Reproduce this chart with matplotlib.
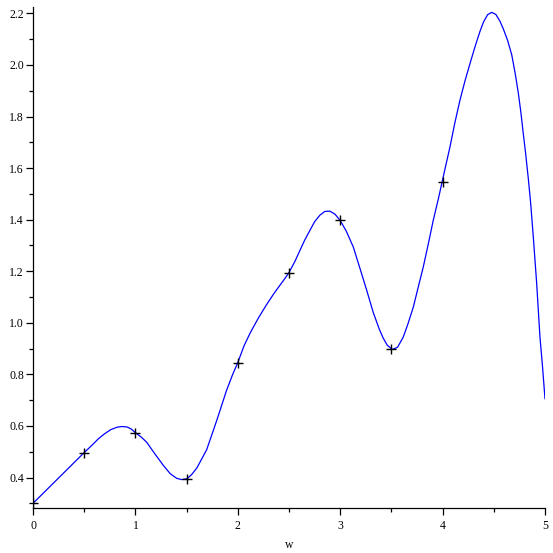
import matplotlib
matplotlib.use("Agg")
from matplotlib import pyplot as plt
from matplotlib.ticker import MultipleLocator

# sample points (w, value) marked with crosses
mark_w = [0.0, 0.5, 1.0, 1.5, 2.0, 2.5, 3.0, 3.5, 4.0]
mark_y = [0.30, 0.497, 0.574, 0.396, 0.846, 1.195, 1.397, 0.897, 1.548]

# smooth curve
curve_w = [0.0, 0.5, 0.58, 0.64, 0.70, 0.76, 0.82, 0.866, 0.92, 0.96, 1.0,
           1.06, 1.11, 1.19, 1.273, 1.34, 1.403, 1.452, 1.507, 1.55, 1.6,
           1.696, 1.794, 1.89, 1.95, 2.0, 2.06, 2.12, 2.2, 2.28, 2.35, 2.41,
           2.46, 2.5, 2.56, 2.607, 2.655, 2.705, 2.75, 2.803, 2.85, 2.90,
           2.95, 3.0, 3.06, 3.128, 3.19, 3.259, 3.323, 3.382, 3.421, 3.46,
           3.509, 3.56, 3.616, 3.66, 3.714, 3.76, 3.811, 3.86, 3.909, 3.96,
           4.0, 4.072, 4.12, 4.17, 4.22, 4.268, 4.32, 4.365, 4.40, 4.44,
           4.479, 4.52, 4.56, 4.593, 4.635, 4.675, 4.71, 4.74, 4.765, 4.788,
           4.81, 4.837, 4.86, 4.886, 4.919, 4.951, 4.975, 5.0]
curve_y = [0.30, 0.497, 0.527, 0.551, 0.570, 0.586, 0.595, 0.598, 0.596,
           0.588, 0.574, 0.556, 0.537, 0.492, 0.447, 0.415, 0.397, 0.392,
           0.396, 0.412, 0.437, 0.508, 0.621, 0.738, 0.800, 0.846, 0.910,
           0.960, 1.018, 1.070, 1.112, 1.145, 1.172, 1.195, 1.240, 1.281,
           1.322, 1.359, 1.392, 1.418, 1.432, 1.433, 1.421, 1.397, 1.355,
           1.294, 1.215, 1.126, 1.040, 0.975, 0.940, 0.913, 0.897, 0.905,
           0.945, 0.994, 1.061, 1.135, 1.216, 1.305, 1.398, 1.483, 1.555,
           1.682, 1.776, 1.864, 1.940, 2.006, 2.075, 2.130, 2.167, 2.195,
           2.204, 2.196, 2.170, 2.140, 2.095, 2.040, 1.965, 1.890, 1.815,
           1.734, 1.660, 1.560, 1.465, 1.333, 1.152, 0.945, 0.835, 0.706]

plt.rcParams['font.family'] = ['Liberation Serif', 'DejaVu Serif']

fig = plt.figure(figsize=(5.53, 5.53), dpi=100)
ax = fig.add_axes([0.0597, 0.0814, 0.9258, 0.9056])

ax.plot(curve_w, curve_y, color='#0000ff', linewidth=0.9)
ax.plot(mark_w, mark_y, linestyle='none', marker='+', color='black',
        markersize=7, markeredgewidth=1.0)

ax.set_xlim(0, 5)
ax.set_ylim(0.282, 2.224)

ax.xaxis.set_major_locator(MultipleLocator(1))
ax.xaxis.set_minor_locator(MultipleLocator(0.5))
ax.yaxis.set_major_locator(MultipleLocator(0.2))
ax.yaxis.set_minor_locator(MultipleLocator(0.1))
ax.yaxis.set_major_formatter(lambda v, p: f"{v:.1f}")

for side in ('top', 'right'):
    ax.spines[side].set_visible(False)
for side in ('left', 'bottom'):
    ax.spines[side].set_linewidth(0.9)

ax.tick_params(axis='both', which='major', direction='out', length=5,
               width=0.9, labelsize=8.5)
ax.tick_params(axis='both', which='minor', direction='out', length=3, width=0.9)
ax.tick_params(axis='x', which='major', pad=4)
ax.tick_params(axis='y', which='major', pad=1.5)

ax.set_xlabel('w', fontsize=8.5, labelpad=5)

fig.savefig('out.png', dpi=100)
